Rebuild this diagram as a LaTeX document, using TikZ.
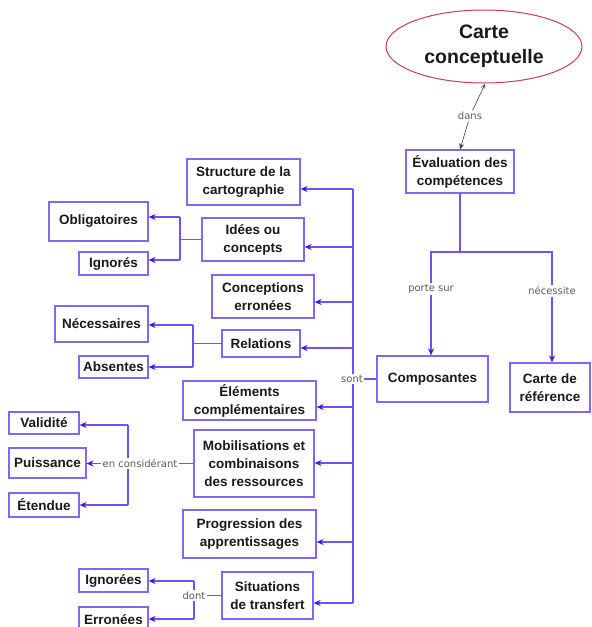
\documentclass[tikz,border=0pt]{standalone}
\usepackage{fontspec}
\setmainfont{Liberation Sans}
\newfontfamily\lblfont{DejaVu Sans}
\usetikzlibrary{arrows.meta,shapes.geometric}
\definecolor{boxc}{RGB}{125,105,245}
\definecolor{linec}{RGB}{115,80,245}
\definecolor{arrc}{RGB}{70,20,230}
\definecolor{ellc}{RGB}{205,60,75}
\definecolor{txtc}{RGB}{25,25,25}
\definecolor{lblc}{RGB}{90,90,90}
\tikzset{
  box/.style={draw=boxc, line width=1.2pt, fill=white, inner sep=0pt, align=center,
    text=txtc, font=\bfseries\fontsize{13.5}{18}\selectfont},
  wh/.style 2 args={minimum width=#1, minimum height=#2},
  lbl/.style={fill=white, inner sep=1.5pt, text=lblc, font=\lblfont\fontsize{10}{12}\selectfont},
  ln/.style={draw=linec, line width=1.1pt},
  arr/.style={ln, -{Stealth[length=7pt,width=6pt,color=arrc]}},
}
\begin{document}
\begin{tikzpicture}[x=1pt,y=-1pt]
\useasboundingbox (0,0) rectangle (592,627);
\clip (0,0) rectangle (592,627);

% main nodes
\node[ellipse, draw=ellc, line width=1pt, fill=white, minimum width=196, minimum height=73,
  inner sep=0pt, align=center, text=txtc, font=\bfseries\fontsize{19.5}{25}\selectfont]
  (ell) at (484,46.5) {Carte\\conceptuelle};
\node[box, wh={108}{43}] (eval) at (460,171.5) {Évaluation des\\compétences};
\node[box, wh={111}{46}] (compo) at (432.5,379) {Composantes};
\node[box, wh={80}{49}] (cref) at (550,387.5) {Carte de\\référence};

\node[box, wh={113}{46}] (struct) at (243.5,182) {Structure de la\\cartographie};
\node[box, wh={102}{43}] (idees) at (253,239.5) {Idées ou\\concepts};
\node[box, wh={102}{43}] (concep) at (263,296.5) {Conceptions\\erronées};
\node[box, wh={78}{27}] (rel) at (261,343.5) {Relations};
\node[box, wh={133}{39}] (elem) at (249.5,400.5) {Éléments\\complémentaires};
\node[box, wh={120}{67}] (mob) at (254,463.5) {Mobilisations et\\combinaisons\\des ressources};
\node[box, wh={133}{48}] (prog) at (249.5,534) {Progression des\\apprentissages};
\node[box, wh={91}{47}] (sit) at (267.5,595.5) {Situations\\de transfert};

\node[box, wh={99}{39}] (oblig) at (98.5,221.5) {Obligatoires};
\node[box, wh={69}{23}] (ign) at (113.5,263.5) {Ignorés};
\node[box, wh={93}{36}] (nec) at (101.5,324) {Nécessaires};
\node[box, wh={69}{22}] (abs) at (113.5,367) {Absentes};
\node[box, wh={70}{22}] (valid) at (44,423) {Validité};
\node[box, wh={77}{30}] (puiss) at (47.5,463) {Puissance};
\node[box, wh={70}{24}] (etend) at (44,505) {Étendue};
\node[box, wh={69}{23}] (ignees) at (113.5,580.5) {Ignorées};
\node[box, wh={69}{26}] (erron) at (113.5,620) {Erronées};

% top: dans
\node[lbl] (dans) at (470,116) {dans};
\draw[draw=black!75, line width=0.6pt, -{Straight Barb[length=4pt,width=4pt]}] (dans) -- (485,84);
\draw[draw=black!75, line width=0.6pt, -{Stealth[length=6pt,width=5pt]}] (dans) -- (eval.north);

% porte sur / nécessite
\coordinate (split) at (460,252);
\node[lbl] (porte) at (431,289) {porte sur};
\node[lbl] (necess) at (552,291) {nécessite};
\draw[ln] (eval.south) -- (split) -| (porte.north);
\draw[ln] (split) -| (necess.north);
\draw[arr] (porte.south) -- (compo.north -| porte.south);
\draw[arr] (necess.south) -- (cref.north -| necess.south);

% sont bus
\coordinate (b1) at (353,189);
\coordinate (b2) at (353,247);
\coordinate (b3) at (353,302);
\coordinate (b4) at (353,348);
\coordinate (b5) at (353,407);
\coordinate (b6) at (353,463);
\coordinate (b7) at (353,542);
\coordinate (b8) at (353,603);
\draw[ln] (b1) -- (b8);
\node[lbl] (sont) at (352,379) {sont};
\draw[ln] (compo.west) -- (compo.west -| sont.east);
\draw[arr] (b1) -- (b1 -| struct.east);
\draw[arr] (b2) -- (b2 -| idees.east);
\draw[arr] (b3) -- (b3 -| concep.east);
\draw[arr, line width=1.6pt] (b4) -- (b4 -| rel.east);
\draw[arr] (b5) -- (b5 -| elem.east);
\draw[arr] (b6) -- (b6 -| mob.east);
\draw[arr] (b7) -- (b7 -| prog.east);
\draw[arr] (b8) -- (b8 -| sit.east);

% idées ou concepts
\coordinate (i1) at (180,217);
\coordinate (i2) at (180,260);
\draw[ln] (idees.west) -- (idees.west -| i1);
\draw[ln] (i1) -- (i2);
\draw[arr] (i1) -- (i1 -| oblig.east);
\draw[arr] (i2) -- (i2 -| ign.east);

% relations
\coordinate (r1) at (193,325);
\coordinate (r2) at (193,367);
\draw[ln] (rel.west) -- (rel.west -| r1);
\draw[ln] (r1) -- (r2);
\draw[arr] (r1) -- (r1 -| nec.east);
\draw[arr] (r2) -- (r2 -| abs.east);

% mobilisations
\coordinate (m1) at (128,425);
\coordinate (m2) at (128,505);
\draw[ln] (m1) -- (m2);
\node[lbl] (encons) at (140,463.5) {en considérant};
\draw[ln] (mob.west) -- (encons.east);
\draw[arr] (encons.west) -- (encons.west -| puiss.east);
\draw[arr] (m1) -- (m1 -| valid.east);
\draw[arr] (m2) -- (m2 -| etend.east);

% situations
\coordinate (s1) at (194,581);
\coordinate (s2) at (194,619);
\draw[ln] (s1) -- (s2);
\node[lbl] (dont) at (194,595.5) {dont};
\draw[ln] (sit.west) -- (dont.east);
\draw[arr] (s1) -- (s1 -| ignees.east);
\draw[arr] (s2) -- (s2 -| erron.east);
\end{tikzpicture}
\end{document}
